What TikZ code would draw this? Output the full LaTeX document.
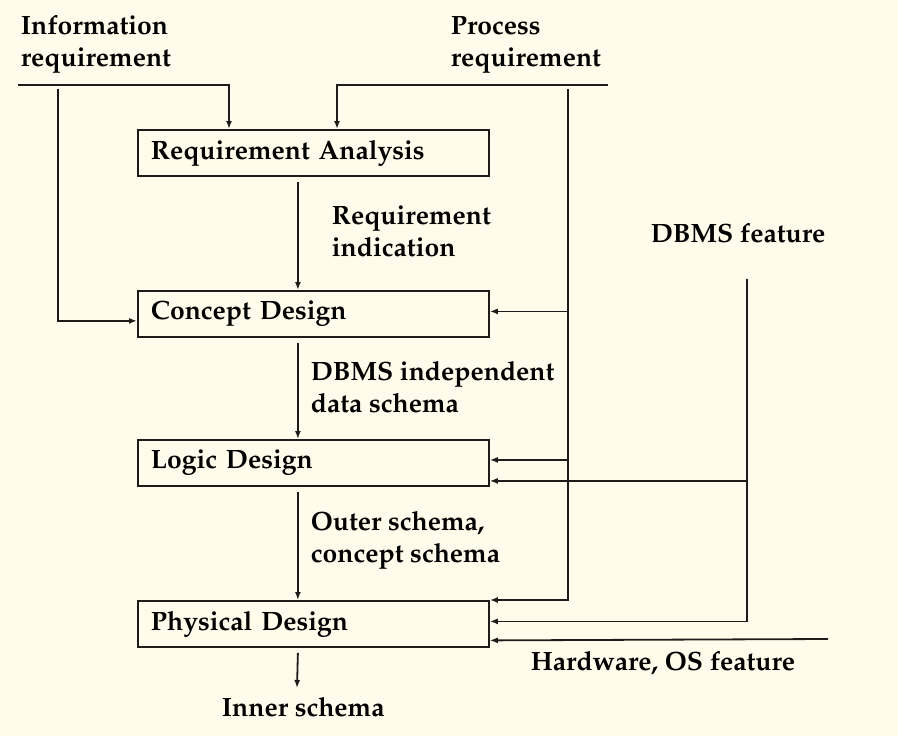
\documentclass[tikz,border=0pt]{standalone}
\usepackage[T1]{fontenc}
\usepackage{mathpazo}
\usetikzlibrary{arrows.meta}
\definecolor{paper}{RGB}{255,252,236}
\definecolor{ink}{RGB}{30,28,26}
\begin{document}
\begin{tikzpicture}[x=1pt,y=-1pt,
  font=\fontsize{26.5}{32}\selectfont\bfseries,
  line width=1.8pt, draw=ink,
  arr/.style={draw=ink, line width=1.8pt, -{Latex[length=8pt,width=6pt]}},
  stage/.style={draw=ink, line width=1.8pt, anchor=north west, inner xsep=13pt, inner ysep=0pt,
    text width=325pt, align=left, minimum height=46pt},
  lbl/.style={anchor=base west, inner sep=0pt, align=left, text=black}]
  % canvas
  \fill[paper] (0,0) rectangle (898,736);
  \useasboundingbox (0,0) rectangle (898,736);

  % design stages
  \node[stage] (ra) at (137,129) {Requirement Analysis};
  \node[stage] (cd) at (137,290) {Concept Design};
  \node[stage] (ld) at (137,439) {Logic Design};
  \node[stage] (pd) at (137,600) {Physical Design};

  % input and output labels (anchored on the baseline of the last line)
  \node[lbl] (info) at (20,66) {Information\\requirement};
  \node[lbl] (proc) at (450,66) {Process\\requirement};
  \node[lbl] (reqi) at (331,256) {Requirement\\indication};
  \node[lbl] (indep) at (310,412) {DBMS independent\\data schema};
  \node[lbl] (outer) at (310,562) {Outer schema,\\concept schema};
  \node[lbl] (dbms) at (650,242) {DBMS feature};
  \node[lbl] (hw) at (530,670) {Hardware, OS feature};
  \node[lbl] (inner) at (221,716) {Inner schema};

  % line ends
  \coordinate (iL) at (18,85);
  \coordinate (iD) at (58,89);
  \coordinate (pR) at (608,85);
  \coordinate (pV) at (568,89);
  \coordinate (dV) at (747,279);
  \coordinate (hR) at (828,639);
  \coordinate (innerTip) at (297,688);

  % entry points on the stage boxes
  \coordinate (raInL) at ([xshift=92pt]ra.north west);
  \coordinate (raInR) at ([xshift=200pt]ra.north west);
  \coordinate (cdInL) at ([yshift=-7pt]cd.west);
  \coordinate (cdIn) at ([yshift=2.5pt]cd.east);
  \coordinate (ldIn) at ([yshift=3pt]ld.east);
  \coordinate (ldIn2) at ([yshift=-18pt]ld.east);
  \coordinate (pdIn) at (pd.north east);
  \coordinate (pdIn2) at ([yshift=2.5pt]pd.east);
  \coordinate (pdIn3) at ([yshift=-16.5pt]pd.east);

  % information requirement
  \draw[arr] (iL) -| (raInL);
  \draw[arr] (iD) |- (cdInL);

  % process requirement
  \draw[arr] (pR) -| (raInR);
  \draw[arr] (pV) |- (pdIn);
  \draw[arr] (cdIn -| pV) -- (cdIn);
  \draw[arr] (ldIn -| pV) -- (ldIn);

  % DBMS feature
  \draw[arr] (dV) |- (pdIn2);
  \draw[arr] (ldIn2 -| dV) -- (ldIn2);

  % hardware and OS feature
  \draw[arr] (hR) -- (pdIn3);

  % flow between stages
  \draw[arr] ([xshift=-15.5pt,yshift=-5pt]ra.south) -- ([xshift=-15.5pt]cd.north);
  \draw[arr] ([xshift=-15.5pt,yshift=-5pt]cd.south) -- ([xshift=-15.5pt]ld.north);
  \draw[arr] ([xshift=-15.5pt,yshift=-5pt]ld.south) -- ([xshift=-15.5pt]pd.north);
  \draw[arr] ([xshift=-15.5pt,yshift=-5pt]pd.south) -- (innerTip);
\end{tikzpicture}
\end{document}
